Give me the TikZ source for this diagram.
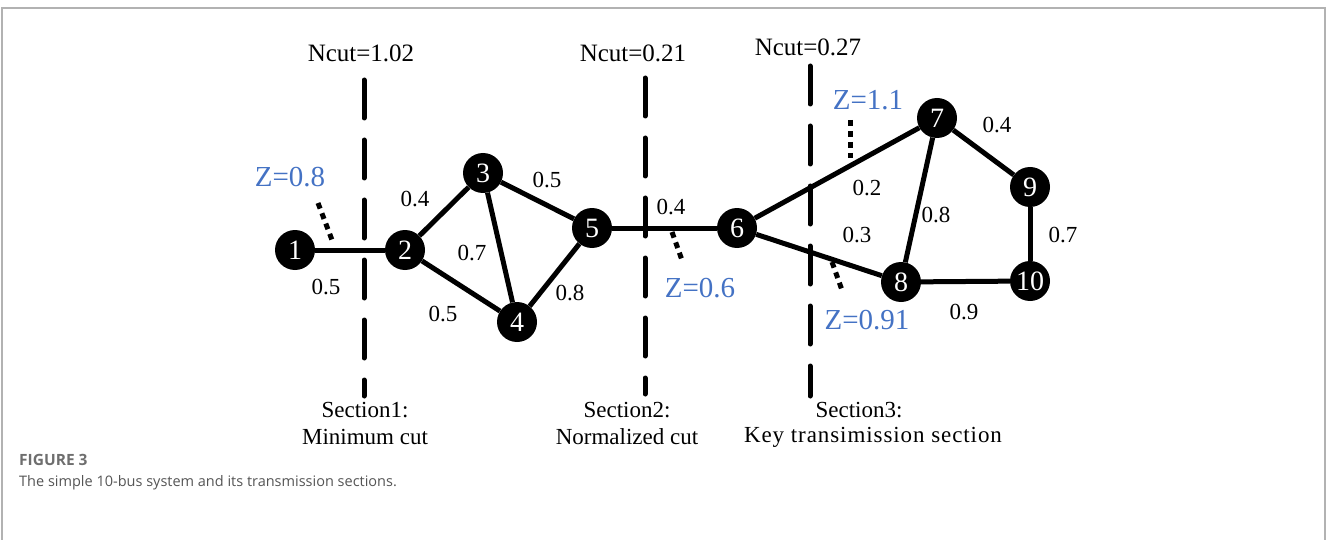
\documentclass[tikz,border=0pt]{standalone}
\usepackage{fontspec}
\setmainfont{Liberation Serif}
\newfontfamily\capfont{Open Sans}
\newfontfamily\spacedserif[LetterSpace=4]{Liberation Serif}
\definecolor{zblue}{HTML}{4472C4}
\definecolor{capgray}{HTML}{555555}
\begin{document}
\begin{tikzpicture}[x=1pt,y=-1pt,
  bus/.style={circle,fill=black,minimum size=40pt,inner sep=0pt,text=white,font=\fontsize{28}{28}\selectfont},
  edge/.style={line width=5pt},
  wlab/.style={font=\fontsize{23}{23}\selectfont,inner sep=0pt},
  zlab/.style={font=\fontsize{29}{29}\selectfont,text=zblue,inner sep=0pt},
  seccut/.style={line width=5pt,line cap=round,dash pattern=on 38pt off 22pt},
  zmark/.style={line width=5pt,dash pattern=on 6pt off 5pt},
  txt/.style={font=\fontsize{23}{23}\selectfont,inner sep=0pt},
  nctxt/.style={font=\fontsize{25}{25}\selectfont,inner sep=0pt}]
\useasboundingbox (0,0) rectangle (1327,540);
% frame
\draw[line width=2pt,color=black!30] (2,541) -- (2,8) -- (1325,8) -- (1325,541);
% buses
\node[bus] (n1) at (295,250) {1};
\node[bus] (n2) at (405,250) {2};
\node[bus] (n3) at (483,173) {3};
\node[bus] (n4) at (517,322) {4};
\node[bus] (n5) at (592,228) {5};
\node[bus] (n6) at (737,228) {6};
\node[bus] (n7) at (937,118) {7};
\node[bus] (n8) at (901,282) {8};
\node[bus] (n9) at (1030,187) {9};
\node[bus] (n10) at (1030,281) {10};
% edges
\draw[edge] (n1) -- (n2);
\draw[edge] (n2) -- (n3);
\draw[edge] (n2) -- (n4);
\draw[edge] (n3) -- (n4);
\draw[edge] (n3) -- (n5);
\draw[edge] (n4) -- (n5);
\draw[edge] (n5) -- (n6);
\draw[edge] (n6) -- (n7);
\draw[edge] (n6) -- (n8);
\draw[edge] (n7) -- (n8);
\draw[edge] (n7) -- (n9);
\draw[edge] (n9) -- (n10);
\draw[edge] (n8) -- (n10);
% edge labels
\node[wlab] (w12) at (326,287) {0.5};
\node[wlab] (w23) at (415,199) {0.4};
\node[wlab] (w34) at (472,253) {0.7};
\node[wlab] (w24) at (443,314) {0.5};
\node[wlab] (w35) at (547,180) {0.5};
\node[wlab] (w45) at (570,293) {0.8};
\node[wlab] (w56) at (671,207) {0.4};
\node[wlab] (w67) at (867,188) {0.2};
\node[wlab] (w68) at (857,235) {0.3};
\node[wlab] (w78) at (936,215) {0.8};
\node[wlab] (w79) at (997,125) {0.4};
\node[wlab] (w910) at (1063,235) {0.7};
\node[wlab] (w810) at (964,312) {0.9};
% section cut lines
\coordinate (s1t) at (364,80);  \coordinate (s1b) at (364,396);
\coordinate (s2t) at (645,78);  \coordinate (s2b) at (645,394);
\coordinate (s3t) at (810,66);  \coordinate (s3b) at (810,396);
\draw[seccut] (s1t) -- (s1b);
\draw[seccut] (s2t) -- (s2b);
\draw[seccut] (s3t) -- (s3b);
% Ncut labels
\node[nctxt] (nc1) at (361,53) {Ncut=1.02};
\node[nctxt] (nc2) at (633,53) {Ncut=0.21};
\node[nctxt] (nc3) at (808,47) {Ncut=0.27};
% section labels
\node[txt] (sec1a) at (365,410) {Section1:};
\node[txt] (sec1b) at (365,437) {Minimum cut};
\node[txt] (sec2a) at (627,410) {Section2:};
\node[txt] (sec2b) at (627,437) {Normalized cut};
\node[txt] (sec3a) at (859,410) {Section3:};
\node[txt,font=\spacedserif\fontsize{23}{23}\selectfont] (sec3b) at (873,437) {Key transimission section};
% Z marks
\coordinate (z1a) at (318,203); \coordinate (z1b) at (332,240);
\coordinate (z2a) at (672,232); \coordinate (z2b) at (683,263);
\coordinate (z3a) at (850,120); \coordinate (z3b) at (850,158);
\coordinate (z4a) at (832,262); \coordinate (z4b) at (843,293);
\draw[zmark] (z1a) -- (z1b);
\draw[zmark] (z2a) -- (z2b);
\draw[zmark] (z3a) -- (z3b);
\draw[zmark] (z4a) -- (z4b);
\node[zlab] (z1) at (290,177) {Z=0.8};
\node[zlab] (z2) at (700,288) {Z=0.6};
\node[zlab] (z3) at (868,100) {Z=1.1};
\node[zlab] (z4) at (867,320) {Z=0.91};
% caption
\node[anchor=west,inner sep=0pt,font=\capfont\bfseries\fontsize{15.5}{15.5}\selectfont,text=capgray!85] (figlab) at (19,460) {FIGURE 3};
\node[anchor=west,inner sep=0pt,font=\capfont\fontsize{14.5}{14.5}\selectfont,text=capgray] (figcap) at (19,483) {The simple 10-bus system and its transmission sections.};
\end{tikzpicture}
\end{document}
